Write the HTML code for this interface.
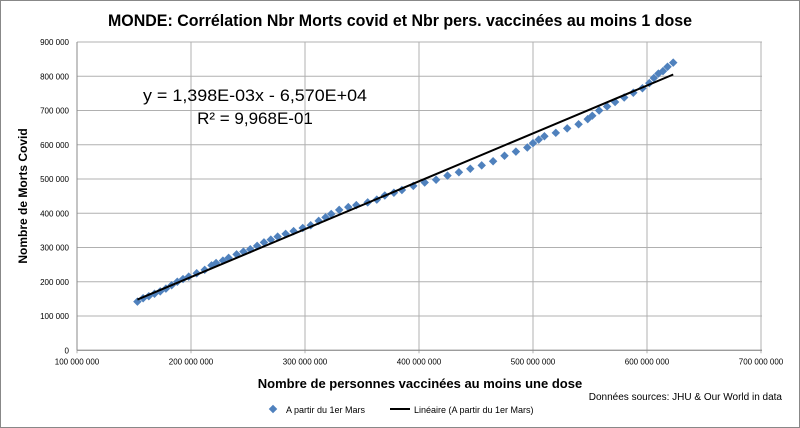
<!DOCTYPE html>
<html><head><meta charset="utf-8"><style>
html,body{margin:0;padding:0;background:#fff}
svg{display:block;font-family:"Liberation Sans",sans-serif}
</style></head><body>
<svg id="chart" width="800" height="428" viewBox="0 0 800 428">
<rect x="0.5" y="0.5" width="799" height="427" fill="#fff" stroke="#888"/>
<text x="400" y="26" text-anchor="middle" font-size="17" font-weight="bold" textLength="584" lengthAdjust="spacingAndGlyphs">MONDE: Corrélation Nbr Morts covid et Nbr pers. vaccinées au moins 1 dose</text>
<g id="grid"></g>
<g id="axes"></g>
<g id="marks"></g>
<text x="255" y="101" text-anchor="middle" font-size="17" textLength="224" lengthAdjust="spacingAndGlyphs">y = 1,398E-03x - 6,570E+04</text>
<text x="255" y="124" text-anchor="middle" font-size="17">R² = 9,968E-01</text>
<text x="420" y="388" text-anchor="middle" font-size="13" font-weight="bold">Nombre de personnes vaccinées au moins une dose</text>
<text transform="translate(27,196) rotate(-90)" text-anchor="middle" font-size="12" font-weight="bold">Nombre de  Morts Covid</text>
<text x="782" y="400" text-anchor="end" font-size="10">Données sources: JHU &amp; Our World in data</text>
<g>
<rect x="270" y="406" width="6" height="6" fill="#4f81bd" transform="rotate(45 273 409)"/>
<text x="286" y="413" font-size="9">A partir du 1er Mars</text>
<line x1="390" y1="409" x2="410" y2="409" stroke="#000" stroke-width="2"/>
<text x="414" y="413" font-size="9">Linéaire (A partir du 1er Mars)</text>
</g>
</svg>
<script>
const xTicks=[100,200,300,400,500,600,700];
const yTicks=[0,100,200,300,400,500,600,700,800,900];
const vacc=[153,158,163,168,173,178,183,188,193,198,205,212,218,222,228,233,240,246,252,258,264,270,276,283,290,298,305,312,318,323,330,338,345,355,363,370,378,385,395,405,415,425,435,445,455,465,475,485,495,500,505,510,520,530,540,548,552,558,565,572,580,588,596,602,606,610,614,618,623];
const deaths=[142,152,158,165,172,180,190,200,208,215,225,235,248,255,262,270,280,288,295,305,315,323,332,340,348,357,365,378,388,398,410,418,424,432,440,452,460,468,480,490,498,510,520,530,540,552,568,580,592,605,615,625,635,648,660,675,685,700,712,725,738,752,765,780,795,808,815,828,840];
const slope=1.398e-3, intercept=-6.570e4;
const NS="http://www.w3.org/2000/svg";
function X(m){return 77+(m-100)*1.14;}
function Y(k){return 350.3-k*0.3425;}
function fmt(n){return String(n).replace(/\B(?=(\d{3})+(?!\d))/g,' ');}
function mk(t,a,p){const e=document.createElementNS(NS,t);for(const k in a)e.setAttribute(k,a[k]);p.appendChild(e);return e;}
const grid=document.getElementById('grid'),axes=document.getElementById('axes'),marks=document.getElementById('marks');
yTicks.forEach(v=>{
  const l=mk('line',{x1:77,x2:762,y1:Y(v),y2:Y(v),stroke:'#b0b0b0','stroke-width':1},grid);
  
  
  const t=mk('text',{x:69,y:Y(v)+3,'text-anchor':'end','font-size':8},axes);
  t.textContent=fmt(v*1000);
  
  
});
xTicks.forEach(v=>{
  const l=mk('line',{x1:X(v),x2:X(v),y1:Y(0)+3,y2:Y(900),stroke:'#b0b0b0','stroke-width':1},grid);
  
  
  const t=mk('text',{x:X(v),y:Y(0)+14,'text-anchor':'middle','font-size':8},axes);
  t.textContent=fmt(v*1000000);
  
  
});
const xa=mk('line',{x1:77,x2:762,y1:Y(0),y2:Y(0),stroke:'#888'},axes);


const ya=mk('line',{x1:77,x2:77,y1:Y(0),y2:Y(900),stroke:'#888'},axes);


vacc.forEach((v,i)=>{
  const cx=X(v),cy=Y(deaths[i]);
  const p=mk('rect',{x:cx-3,y:cy-3,width:6,height:6,fill:'#4f81bd',transform:`rotate(45 ${cx} ${cy})`},marks);
  
  
});
const x0=vacc[0],x1=vacc[vacc.length-1];
const tl=mk('line',{x1:X(x0),y1:Y((slope*x0*1e6+intercept)/1000),x2:X(x1),y2:Y((slope*x1*1e6+intercept)/1000),stroke:'#000','stroke-width':2},marks);


</script>
</body></html>
